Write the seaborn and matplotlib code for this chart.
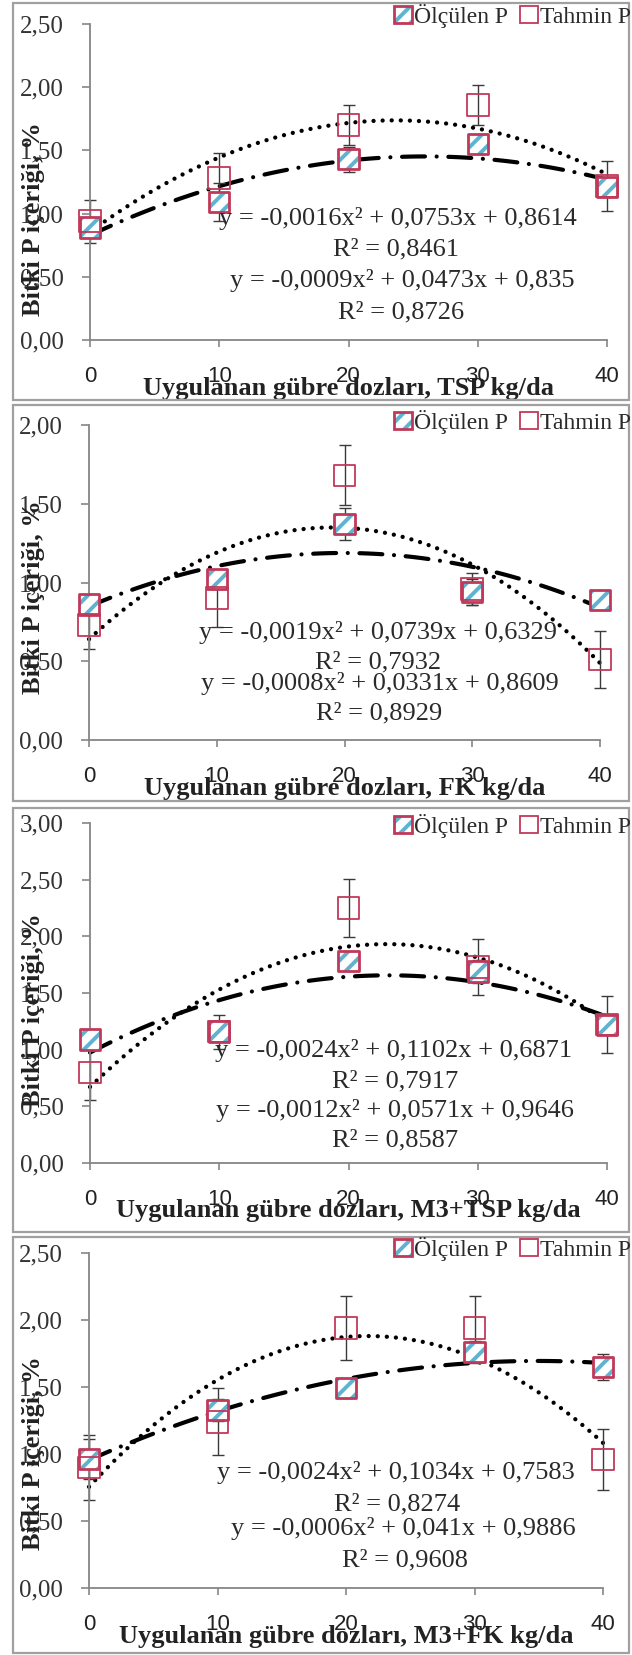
import numpy as np
import pandas as pd
import matplotlib
matplotlib.use("Agg")
import matplotlib.pyplot as plt
import seaborn as sns
from matplotlib.patches import Patch, Rectangle
from matplotlib.ticker import FuncFormatter, MultipleLocator

# uygulanan gübre dozları, kg/da
doz = [0, 10, 20, 30, 40]

# TSP
tsp_olculen = [0.89, 1.09, 1.43, 1.55, 1.21]
tsp_olculen_hata = [0.06, 0.15, 0.10, 0.06, 0.06]
tsp_tahmin = [0.94, 1.28, 1.70, 1.86, 1.22]
tsp_tahmin_hata = [0.17, 0.20, 0.16, 0.16, 0.20]

# FK
fk_olculen = [0.86, 1.02, 1.37, 0.94, 0.89]
fk_olculen_hata = [0.05, 0.06, 0.10, 0.08, 0.05]
fk_tahmin = [0.73, 0.90, 1.68, 0.96, 0.51]
fk_tahmin_hata = [0.15, 0.18, 0.19, 0.10, 0.18]

# M3+TSP
m3tsp_olculen = [1.09, 1.16, 1.78, 1.69, 1.22]
m3tsp_olculen_hata = [0.08, 0.06, 0.08, 0.10, 0.08]
m3tsp_tahmin = [0.80, 1.16, 2.25, 1.73, 1.22]
m3tsp_tahmin_hata = [0.24, 0.15, 0.26, 0.25, 0.25]

# M3+FK
m3fk_olculen = [0.96, 1.33, 1.49, 1.76, 1.65]
m3fk_olculen_hata = [0.15, 0.08, 0.07, 0.08, 0.10]
m3fk_tahmin = [0.90, 1.24, 1.94, 1.94, 0.96]
m3fk_tahmin_hata = [0.24, 0.25, 0.24, 0.24, 0.23]

x_etiketleri = [
    "Uygulanan gübre dozları, TSP kg/da",
    "Uygulanan gübre dozları, FK kg/da",
    "Uygulanan gübre dozları, M3+TSP kg/da",
    "Uygulanan gübre dozları, M3+FK kg/da",
]
y_etiketi = "Bitki P içeriği, %"
seri_adlari = ["Ölçülen P", "Tahmin P"]

tsp_denklem = ["y = -0,0016x² + 0,0753x + 0,8614", "R² = 0,8461",
               "y = -0,0009x² + 0,0473x + 0,835", "R² = 0,8726"]
fk_denklem = ["y = -0,0019x² + 0,0739x + 0,6329", "R² = 0,7932",
              "y = -0,0008x² + 0,0331x + 0,8609", "R² = 0,8929"]
m3tsp_denklem = ["y = -0,0024x² + 0,1102x + 0,6871", "R² = 0,7917",
                 "y = -0,0012x² + 0,0571x + 0,9646", "R² = 0,8587"]
m3fk_denklem = ["y = -0,0024x² + 0,1034x + 0,7583", "R² = 0,8274",
                "y = -0,0006x² + 0,041x + 0,9886", "R² = 0,9608"]

y_ust = [2.5, 2.0, 3.0, 2.5]

W, H = 632, 1655
sns.set_style("ticks")
plt.rcParams["font.family"] = ["Liberation Serif", "DejaVu Serif"]
plt.rcParams["hatch.linewidth"] = 2.8

KIRMIZI = "#C0395A"
MAVI = "#5FB3D0"
GRI = "#868686"

# piksel yerleşimi: eksen (sol, sağ, üst, alt), çerçeve (üst, alt), ylabel y, lejant y, denklem konumları
yerlesim = [
    dict(ax=(90, 607, 24, 340), cer=(3, 400), yl=219, lg=16,
         eq=[(398, 219), (396, 249), (402, 280), (401, 312)]),
    dict(ax=(89, 600, 425, 740), cer=(405, 801), yl=597, lg=422,
         eq=[(378, 633), (378, 662), (380, 684), (379, 713)]),
    dict(ax=(90, 607, 823, 1163), cer=(808, 1232), yl=1010, lg=826,
         eq=[(394, 1050), (395, 1081), (395, 1110), (395, 1140)]),
    dict(ax=(89, 603, 1253, 1588), cer=(1237, 1653), yl=1453, lg=1249,
         eq=[(396, 1473), (397, 1504), (403, 1529), (405, 1560)]),
]

paneller = [
    (tsp_olculen, tsp_olculen_hata, tsp_tahmin, tsp_tahmin_hata, tsp_denklem),
    (fk_olculen, fk_olculen_hata, fk_tahmin, fk_tahmin_hata, fk_denklem),
    (m3tsp_olculen, m3tsp_olculen_hata, m3tsp_tahmin, m3tsp_tahmin_hata, m3tsp_denklem),
    (m3fk_olculen, m3fk_olculen_hata, m3fk_tahmin, m3fk_tahmin_hata, m3fk_denklem),
]

fig = plt.figure(figsize=(W / 100, H / 100), dpi=100)

for i, (olc, olc_h, tah, tah_h, denklem) in enumerate(paneller):
    L = yerlesim[i]
    sol, sag, ust, alt = L["ax"]
    ax = fig.add_axes([sol / W, 1 - alt / H, (sag - sol) / W, (alt - ust) / H])

    # çerçeve
    c_ust, c_alt = L["cer"]
    fig.add_artist(Rectangle((13 / W, 1 - c_alt / H), 616 / W, (c_alt - c_ust) / H,
                             transform=fig.transFigure, fill=False, ec="#a0a0a0", lw=1.6))

    # trend çizgileri (2. derece)
    sns.regplot(x=doz, y=tah, order=2, ci=None, scatter=False, ax=ax,
                line_kws=dict(color="black", lw=3.1, ls=(0, (0.01, 2.1)),
                              dash_capstyle="round", clip_on=False))
    sns.regplot(x=doz, y=olc, order=2, ci=None, scatter=False, ax=ax,
                line_kws=dict(color="black", lw=3.0, ls=(0, (5.5, 2.8, 0.01, 2.8)),
                              dash_capstyle="round", clip_on=False))

    # hata çubukları
    for yy, hh in [(olc, olc_h), (tah, tah_h)]:
        eb = ax.errorbar(doz, yy, yerr=hh, fmt="none", ecolor="#3a3a3a",
                         elinewidth=1.0, capsize=4, capthick=1.0)
        for a in eb.get_children():
            a.set_clip_on(False)

    # Ölçülen P: taralı kare
    sns.scatterplot(x=doz, y=olc, marker="s", s=210, color="white", edgecolor=MAVI,
                    linewidth=0, hatch="//", ax=ax, clip_on=False, zorder=4)
    sns.scatterplot(x=doz, y=olc, marker="s", s=210, facecolor="none", edgecolor=KIRMIZI,
                    linewidth=2.0, ax=ax, clip_on=False, zorder=5)
    # Tahmin P: boş kare
    sns.scatterplot(x=doz, y=tah, marker="s", s=240, facecolor="none", edgecolor=KIRMIZI,
                    linewidth=1.3, ax=ax, clip_on=False, zorder=5)

    ax.set_xlim(0, 40)
    ax.set_ylim(0, y_ust[i])
    ax.xaxis.set_major_locator(MultipleLocator(10))
    ax.yaxis.set_major_locator(MultipleLocator(0.5))
    ax.yaxis.set_major_formatter(FuncFormatter(lambda v, p: f"{v:.2f}".replace(".", ",")))
    sns.despine(ax=ax)
    for s in ["left", "bottom"]:
        ax.spines[s].set_color(GRI)
        ax.spines[s].set_linewidth(1.3)
    ax.tick_params(axis="y", direction="out", length=6, width=1.2, color=GRI,
                   labelsize=18, pad=13, labelcolor="#333333")
    ax.tick_params(axis="x", direction="out", length=5, width=1.2, color=GRI,
                   labelsize=16, pad=14, labelcolor="#222222")
    for t in ax.get_xticklabels():
        t.set_fontfamily("Liberation Sans")

    ax.set_xlabel(x_etiketleri[i], fontsize=19, fontweight="bold", color="#222222")
    ax.xaxis.set_label_coords(0.5, -48 / (alt - ust))
    ax.xaxis.label.set_va("center")
    ax.set_ylabel(y_etiketi, fontsize=19, fontweight="bold", color="#222222")
    ax.yaxis.set_label_coords((34 - sol) / (sag - sol), (alt - L["yl"]) / (alt - ust))
    ax.yaxis.label.set_va("center")

    for (px, py), metin in zip(L["eq"], denklem):
        fig.text(px / W, 1 - py / H, metin, ha="center", va="center",
                 fontsize=19, color="#2a2a2a")

    h_olc = (Patch(facecolor="white", edgecolor=MAVI, hatch="//", lw=0),
             Patch(facecolor="none", edgecolor=KIRMIZI, lw=2.0))
    h_tah = Patch(facecolor="white", edgecolor=KIRMIZI, lw=1.3)
    fig.legend([h_olc, h_tah], seri_adlari, loc="center right",
               bbox_to_anchor=(631 / W, 1 - L["lg"] / H), ncol=2, frameon=False,
               fontsize=17, handlelength=0.75, handleheight=0.75, handletextpad=0.1,
               columnspacing=0.5, borderaxespad=0, borderpad=0,
               labelcolor="#2a2a2a")

fig.savefig("out.png", dpi=100)
